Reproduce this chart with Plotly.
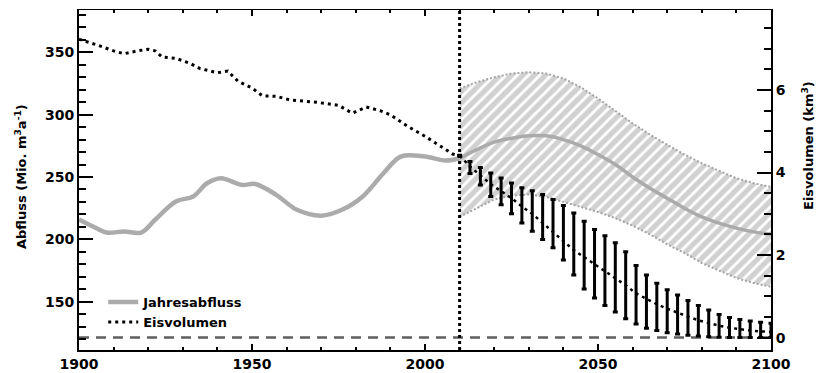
import plotly.graph_objects as go

# ---------------- data ----------------
runoff_hist_years = [1900, 1905, 1908, 1913, 1918, 1922, 1928, 1933, 1937, 1941, 1947,
                     1951, 1957, 1963, 1970, 1976, 1982, 1988, 1993, 2000, 2006, 2010]
runoff_hist = [216, 209, 205.5, 206.3, 205.5, 215.7, 230.4, 234.4, 245, 249, 243.7,
               244.4, 235.7, 223.7, 219, 223.7, 234.4, 253, 266.4, 266.4, 263.2, 265]

runoff_fut_years = [2010, 2015, 2020, 2025, 2030, 2035, 2040, 2045, 2050, 2055,
                    2060, 2065, 2070, 2075, 2080, 2085, 2090, 2095, 2100]
runoff_fut = [265, 272, 278, 281, 283, 283, 280, 275, 268, 260,
              250, 241, 233, 225, 218, 213, 209, 206, 204]
runoff_fut_upper = [321, 326, 330, 333, 334, 333, 329, 322, 313, 303,
                    293, 284, 276, 268, 261, 255, 249, 245, 242]
runoff_fut_lower = [218, 225, 232, 235, 236, 234, 230, 226, 222, 217,
                    211, 204, 196, 189, 181, 175, 169, 165, 162]

ice_hist_years = [1900, 1905, 1910, 1913, 1917, 1920, 1922, 1924, 1928, 1932, 1935,
                  1940, 1943, 1946, 1950, 1953, 1957, 1961, 1965, 1969, 1975, 1979,
                  1983, 1987, 1990, 1995, 2000, 2004, 2008, 2010]
ice_hist = [7.23, 7.10, 6.95, 6.88, 6.95, 6.99, 6.95, 6.80, 6.77, 6.65, 6.52,
            6.42, 6.46, 6.21, 6.05, 5.86, 5.85, 5.76, 5.73, 5.70, 5.63, 5.44,
            5.59, 5.50, 5.40, 5.12, 4.88, 4.67, 4.45, 4.40]

ice_fut_years = [2010, 2013, 2016, 2019, 2022, 2025, 2028, 2031, 2034, 2037, 2040,
                 2043, 2046, 2049, 2052, 2055, 2058, 2061, 2064, 2067, 2070, 2073,
                 2076, 2079, 2082, 2085, 2088, 2091, 2094, 2097, 2100]
ice_fut = [4.41, 4.15, 3.93, 3.72, 3.55, 3.38, 3.18, 3.00, 2.78, 2.56, 2.33,
           2.12, 1.95, 1.78, 1.62, 1.45, 1.27, 1.07, 0.93, 0.81, 0.70, 0.60,
           0.51, 0.42, 0.35, 0.29, 0.24, 0.20, 0.17, 0.15, 0.14]
ice_fut_upper = [4.42, 4.27, 4.12, 3.99, 3.87, 3.75, 3.63, 3.56, 3.47, 3.35, 3.20,
                 3.02, 2.82, 2.62, 2.47, 2.30, 2.08, 1.75, 1.52, 1.32, 1.16, 1.03,
                 0.90, 0.78, 0.67, 0.56, 0.49, 0.44, 0.40, 0.37, 0.35]
ice_fut_lower = [4.40, 3.98, 3.70, 3.42, 3.22, 3.00, 2.78, 2.58, 2.38, 2.18, 1.88,
                 1.52, 1.18, 0.96, 0.78, 0.62, 0.46, 0.33, 0.23, 0.17, 0.12, 0.09,
                 0.06, 0.04, 0.02, 0.01, 0.0, 0.0, 0.0, 0.0, 0.0]

split_year = 2010
x_ticks = [1900, 1950, 2000, 2050, 2100]
left_ticks = [150, 200, 250, 300, 350]
right_ticks = [0, 2, 4, 6]

# ---------------- styles ----------------
GRAY = "#ababab"
HATCH = "#a4a4a4"
FONT = dict(family="DejaVu Sans", size=13, color="black", weight="bold")
TICKFONT = dict(family="DejaVu Sans", size=14, color="black", weight="bold")

fig = go.Figure()

# gray hatched runoff band
fig.add_trace(go.Scatter(x=runoff_fut_years, y=runoff_fut_lower, mode="lines",
                         line=dict(color=HATCH, width=2, dash="2px,2px"),
                         showlegend=False, hoverinfo="skip"))
fig.add_trace(go.Scatter(x=runoff_fut_years, y=runoff_fut_upper, mode="lines",
                         line=dict(color=HATCH, width=2, dash="2px,2px"),
                         fill="tonexty", fillcolor="rgba(0,0,0,0)",
                         fillpattern=dict(shape="/", fgcolor=HATCH, bgcolor="rgba(0,0,0,0)",
                                          size=8, solidity=0.65),
                         showlegend=False, hoverinfo="skip"))

# runoff lines
fig.add_trace(go.Scatter(x=runoff_hist_years, y=runoff_hist, mode="lines",
                         line=dict(color=GRAY, width=4.5, shape="spline"),
                         name="Jahresabfluss"))
fig.add_trace(go.Scatter(x=runoff_fut_years, y=runoff_fut, mode="lines",
                         line=dict(color=GRAY, width=3.5, shape="spline"),
                         showlegend=False))

# ice volume uncertainty bars
err_plus = [u - c for u, c in zip(ice_fut_upper, ice_fut)]
err_minus = [c - l for c, l in zip(ice_fut, ice_fut_lower)]
fig.add_trace(go.Scatter(x=ice_fut_years, y=ice_fut, mode="markers", yaxis="y2",
                         marker=dict(size=1, color="rgba(0,0,0,0)"),
                         error_y=dict(type="data", symmetric=False, array=err_plus,
                                      arrayminus=err_minus, color="black",
                                      thickness=3, width=2.5),
                         showlegend=False, hoverinfo="skip"))

# ice volume lines
fig.add_trace(go.Scatter(x=ice_hist_years, y=ice_hist, mode="lines", yaxis="y2",
                         line=dict(color="black", width=3, dash="3px,4px"),
                         name="Eisvolumen"))
fig.add_trace(go.Scatter(x=ice_fut_years, y=ice_fut, mode="lines", yaxis="y2",
                         line=dict(color="black", width=2.5, dash="3px,4px"),
                         showlegend=False))

# invisible trace to anchor the top axis
fig.add_trace(go.Scatter(x=[1900, 2100], y=[200, 200], xaxis="x2", mode="lines",
                         line=dict(color="rgba(0,0,0,0)"), showlegend=False,
                         hoverinfo="skip"))

# zero ice line and 2010 marker
fig.add_shape(type="line", xref="paper", x0=0, x1=1, yref="y2", y0=0, y1=0,
              line=dict(color="#5f5f5f", width=2.5, dash="10px,7px"), layer="below")
fig.add_shape(type="line", xref="x", x0=split_year, x1=split_year, yref="paper",
              y0=0, y1=1, line=dict(color="black", width=3, dash="3px,3px"))

fig.update_layout(
    width=819, height=373,
    margin=dict(l=79, r=48, t=10, b=23, autoexpand=False),
    paper_bgcolor="white", plot_bgcolor="white",
    font=FONT,
    xaxis=dict(range=[1900, 2100], tickvals=x_ticks, ticks="inside", ticklen=6,
               tickwidth=2, tickcolor="black", showline=True, linecolor="black",
               linewidth=2, showgrid=False, zeroline=False, ticklabelstandoff=0,
               automargin=False,
               minor=dict(dtick=10, tick0=1900, ticks="inside", ticklen=3,
                          tickwidth=2, tickcolor="black", showgrid=False),
               tickfont=TICKFONT),
    xaxis2=dict(range=[1900, 2100], overlaying="x", side="top", tickvals=x_ticks,
                ticks="inside", ticklen=6, tickwidth=2, tickcolor="black",
                showticklabels=False, showline=True, linecolor="black", linewidth=1,
                showgrid=False, zeroline=False, automargin=False,
                minor=dict(dtick=10, tick0=1900, ticks="inside", ticklen=3,
                           tickwidth=2, tickcolor="black", showgrid=False)),
    yaxis=dict(range=[111.3, 383.9], tickvals=left_ticks, ticks="inside", ticklen=14,
               tickwidth=2, tickcolor="black", showline=True, linecolor="black",
               linewidth=2, showgrid=False, zeroline=False, automargin=False,
               minor=dict(dtick=10, tick0=0, ticks="inside", ticklen=7, tickwidth=2,
                          tickcolor="black", showgrid=False),
               tickfont=TICKFONT),
    yaxis2=dict(range=[-0.30, 7.94], overlaying="y", side="right", tickvals=right_ticks,
                ticks="inside", ticklen=14, tickwidth=2, tickcolor="black",
                showline=True, linecolor="black", linewidth=2, showgrid=False,
                zeroline=False, automargin=False,
                minor=dict(dtick=0.5, tick0=0, ticks="inside", ticklen=7, tickwidth=2,
                           tickcolor="black", showgrid=False),
                tickfont=TICKFONT),
    legend=dict(x=0.035, y=0.185, xanchor="left", yanchor="top",
                bgcolor="rgba(0,0,0,0)", itemwidth=30, font=FONT,
                traceorder="normal", tracegroupgap=0),
    showlegend=True,
)

fig.add_annotation(text="Abfluss (Mio. m<sup>3</sup>a<sup>-1</sup>)", textangle=-90,
                   xref="paper", yref="paper", x=(21 - 79) / 692, y=(350 - 177) / 340,
                   xanchor="center", yanchor="middle", showarrow=False, font=FONT)
fig.add_annotation(text="Eisvolumen (km<sup>3</sup>)", textangle=-90,
                   xref="paper", yref="paper", x=(808 - 79) / 692, y=(350 - 146) / 340,
                   xanchor="center", yanchor="middle", showarrow=False, font=FONT)

fig.write_html("out.html")
